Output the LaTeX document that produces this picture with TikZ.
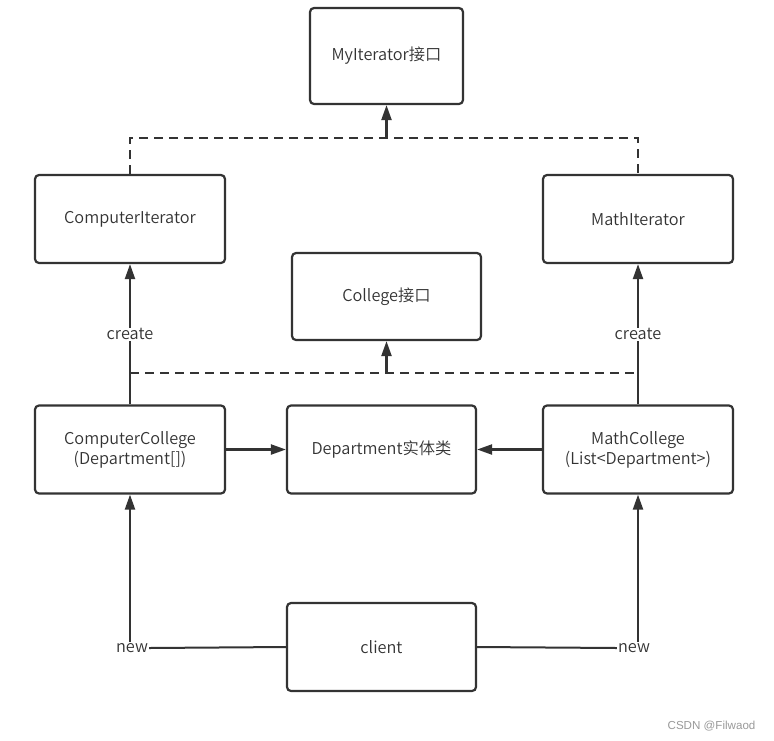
\documentclass[tikz,border=0pt]{standalone}
\usepackage{fontspec}
\setmainfont{Noto Sans CJK SC}[UprightFont=* DemiLight]
\newfontfamily\wmfont{Liberation Sans}
\usetikzlibrary{arrows.meta}
\definecolor{ink}{HTML}{333333}
\tikzset{
  box/.style={draw=ink, line width=2.2pt, rounded corners=4pt, minimum width=#1, minimum height=88pt, inner sep=0pt, text=ink, font=\fontsize{16.3}{20}\selectfont, align=center},
  box/.default=190pt,
  conn/.style={draw=ink, line width=2.2pt},
  dconn/.style={draw=ink, line width=2.2pt, dash pattern=on 9pt off 6pt},
  arr/.style={-{Triangle[length=15pt,width=10pt]}},
  lbl/.style={text=ink, font=\fontsize{16.3}{20}\selectfont, fill=white, inner sep=1pt},
}
\begin{document}
\begin{tikzpicture}[x=1pt,y=-1pt]
\useasboundingbox (0,0) rectangle (774,740);
\node[box=153pt, minimum height=96pt] (myit) at (386.5,56) {MyIterator接口};
\node[box] (cit) at (130,219) {ComputerIterator};
\node[box] (mit) at (638,219) {MathIterator};
\node[box=189pt, minimum height=87pt] (col) at (386.5,296.5) {College接口};
\node[box] (cc) at (130,449.5) {ComputerCollege\\(Department[])};
\node[box=189pt] (dep) at (381.5,449.5) {Department实体类};
\node[box] (mc) at (638,449.5) {MathCollege\\(List<Department>)};
\node[box=189pt] (cl) at (381.5,647) {client};

% top dashed realization
\coordinate (t1) at (130,138);
\coordinate (t2) at (638,138);
\coordinate (tm) at (386.5,138);
\draw[dconn] (cit.north) -- (t1) -- (t2) -- (mit.north);
\draw[conn,arr] (tm) -- (myit.south);

% middle dashed realization
\coordinate (m1) at (130,373);
\coordinate (m2) at (638,373);
\coordinate (mm) at (386.5,373);
\draw[dconn] (m1) -- (m2);
\draw[conn,arr] (mm) -- (col.south);

% create
\draw[conn,arr] (cc.north) -- node[lbl, pos=0.5] (cr1) {create} (cit.south);
\draw[conn,arr] (mc.north) -- node[lbl, pos=0.5] (cr2) {create} (mit.south);

% department
\draw[conn,arr] (cc.east) -- (dep.west);
\draw[conn,arr] (mc.west) -- (dep.east);

% client new
\node[lbl] (n1) at (132,648) {new};
\node[lbl] (n2) at (634,648) {new};
\draw[conn, line width=2pt] (cl.west) -- (n1.east);
\draw[conn, line width=2pt] (cl.east) -- (n2.west);
\draw[conn,arr] (n1.north -| cc.south) -- (cc.south);
\draw[conn,arr] (n2.north -| mc.south) -- (mc.south);

\node[text=gray!80, font=\wmfont\fontsize{11.6}{13}\selectfont, anchor=east] (wm) at (759,726) {CSDN @Filwaod};
\end{tikzpicture}
\end{document}
